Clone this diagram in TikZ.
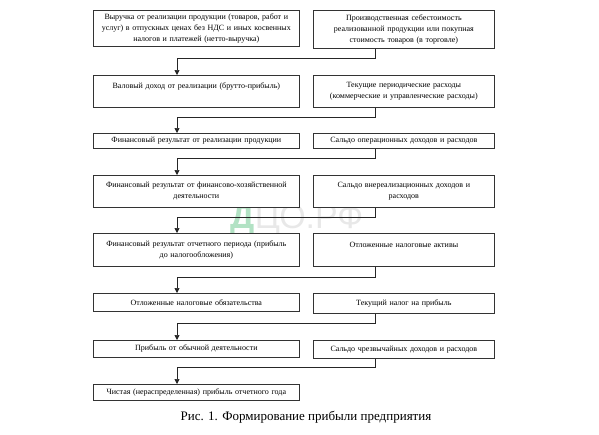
\documentclass[tikz,border=0pt]{standalone}
\usepackage{fontspec}
\setmainfont{Liberation Serif}
\newfontfamily\wmfont{Liberation Sans}
\usetikzlibrary{arrows.meta}
\definecolor{wmgreen}{RGB}{178,226,196}
\definecolor{wmgray}{RGB}{232,232,232}
\tikzset{
  bx/.style={draw=black!80, fill=white, line width=0.7pt, anchor=north west, inner sep=0pt,
    align=center, font=\fontsize{8}{11}\selectfont},
  lbox/.style={bx, minimum width=206pt, text width=198pt},
  rbox/.style={bx, minimum width=181pt, text width=174pt},
  conn/.style={draw=black!85, line width=0.7pt},
  arr/.style={conn, -{Triangle[length=5pt,width=5pt]}}
}
\begin{document}
\begin{tikzpicture}[x=1pt,y=-1pt]
\useasboundingbox (0,0) rectangle (599,434);
% watermark
\node[font=\wmfont\bfseries\fontsize{34}{34}\selectfont, text=wmgreen, inner sep=0pt, anchor=base west] (wm1) at (230,228) {Д};
\node[font=\wmfont\fontsize{34}{34}\selectfont, text=wmgray, inner sep=0pt, anchor=base west] (wm2) at (wm1.base east) {ЦО.РФ};
% boxes
\node[lbox, minimum height=36pt] (L1) at (93,10) {Выручка от реализации продукции (товаров, работ и\\ услуг) в отпускных ценах без НДС и иных косвенных\\ налогов и платежей (нетто-выручка)};
\node[rbox, minimum height=38pt] (R1) at (313,10) {Производственная себестоимость\\ реализованной продукции или покупная\\ стоимость товаров (в торговле)};
\node[lbox, minimum height=32pt] (L2) at (93,75) {Валовый доход от реализации (брутто-прибыль)\\ \mbox{}};
\node[rbox, minimum height=32pt] (R2) at (313,75) {Текущие периодические расходы\\ (коммерческие и управленческие расходы)};
\node[lbox, minimum height=15pt] (L3) at (93,133) {Финансовый результат от реализации продукции};
\node[rbox, minimum height=15pt] (R3) at (313,133) {Сальдо операционных доходов и расходов};
\node[lbox, minimum height=32pt] (L4) at (93,175) {Финансовый результат от финансово-хозяйственной\\ деятельности};
\node[rbox, minimum height=32pt] (R4) at (313,175) {Сальдо внереализационных доходов и\\ расходов};
\node[lbox, minimum height=33pt] (L5) at (93,233) {Финансовый результат отчетного периода (прибыль\\ до налогообложения)};
\node[rbox, minimum height=33pt] (R5) at (313,233) {Отложенные налоговые активы\\ \mbox{}};
\node[lbox, minimum height=18pt] (L6) at (93,293) {Отложенные налоговые обязательства};
\node[rbox, minimum height=20pt] (R6) at (313,293) {Текущий налог на прибыль};
\node[lbox, minimum height=17pt] (L7) at (93,340) {Прибыль от обычной деятельности};
\node[rbox, minimum height=18pt] (R7) at (313,340) {Сальдо чрезвычайных доходов и расходов};
\node[lbox, minimum height=16pt] (L8) at (93,384) {Чистая (нераспределенная) прибыль отчетного года};
% connector bends
\coordinate (j1) at (375,58);  \coordinate (k1) at (177,58);
\coordinate (j2) at (375,117); \coordinate (k2) at (177,117);
\coordinate (j3) at (375,158); \coordinate (k3) at (177,158);
\coordinate (j4) at (375,217); \coordinate (k4) at (177,217);
\coordinate (j5) at (375,277); \coordinate (k5) at (177,277);
\coordinate (j6) at (375,323); \coordinate (k6) at (177,323);
\coordinate (j7) at (375,367); \coordinate (k7) at (177,367);
\draw[arr] (j1 |- R1.south) -- (j1) -- (k1) -- (k1 |- L2.north);
\draw[arr] (j2 |- R2.south) -- (j2) -- (k2) -- (k2 |- L3.north);
\draw[arr] (j3 |- R3.south) -- (j3) -- (k3) -- (k3 |- L4.north);
\draw[arr] (j4 |- R4.south) -- (j4) -- (k4) -- (k4 |- L5.north);
\draw[arr] (j5 |- R5.south) -- (j5) -- (k5) -- (k5 |- L6.north);
\draw[arr] (j6 |- R6.south) -- (j6) -- (k6) -- (k6 |- L7.north);
\draw[arr] (j7 |- R7.south) -- (j7) -- (k7) -- (k7 |- L8.north);
% caption
\node[font=\fontsize{13}{15}\selectfont, inner sep=0pt] (cap) at (306,417) {Рис. 1. Формирование прибыли предприятия};
\end{tikzpicture}
\end{document}
